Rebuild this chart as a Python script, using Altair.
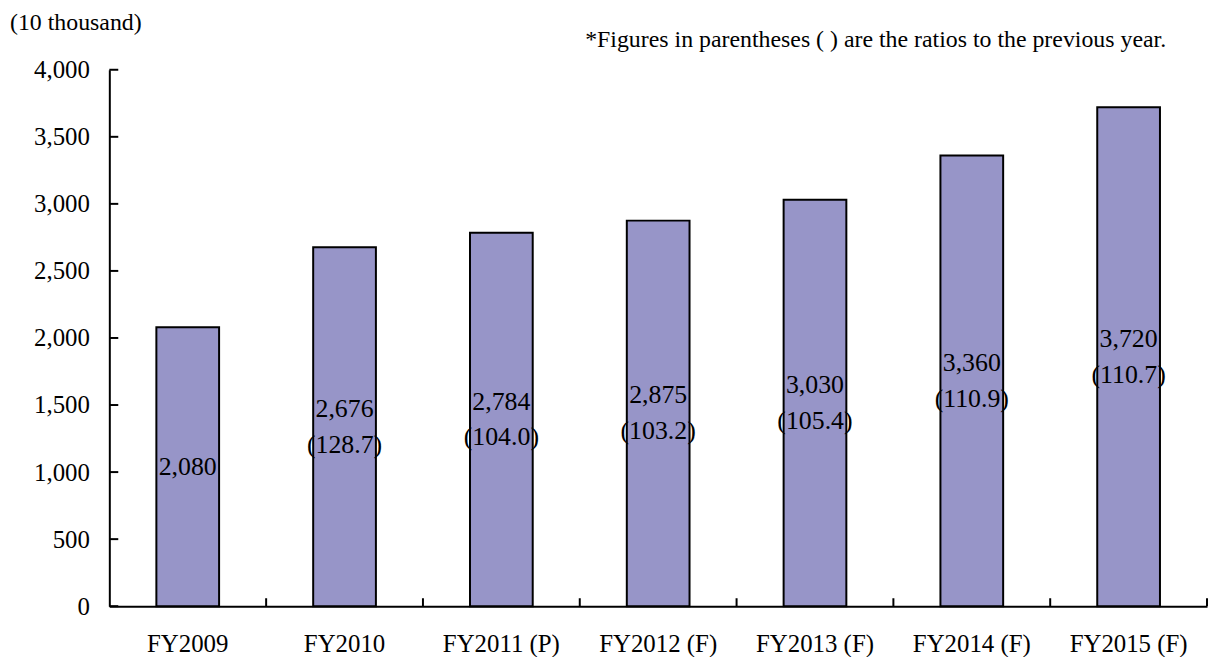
import altair as alt
import pandas as pd

categories = ["FY2009", "FY2010", "FY2011 (P)", "FY2012 (F)", "FY2013 (F)", "FY2014 (F)", "FY2015 (F)"]
values = [2080, 2676, 2784, 2875, 3030, 3360, 3720]
ratios = [None, 128.7, 104.0, 103.2, 105.4, 110.9, 110.7]
y_ticks = [0, 500, 1000, 1500, 2000, 2500, 3000, 3500, 4000]
unit_text = "(10 thousand)"
note_text = "*Figures in parentheses ( ) are the ratios to the previous year."

labels = []
lines = []
for v, r in zip(values, ratios):
    s = f"{v:,}"
    n = 1
    if r is not None:
        s += f"\n({r:.1f})"
        n = 2
    labels.append(s)
    lines.append(n)

df = pd.DataFrame({"cat": categories, "value": values, "label": labels, "lines": lines})
df["mid"] = df["value"] / 2
tick_df = pd.DataFrame({"v": y_ticks})

FONT = "Liberation Serif"
W, H = 1105, 540
LH = 36

xscale = alt.Scale(domain=categories, paddingInner=0.6, paddingOuter=0.3)
yscale = alt.Scale(domain=[0, 4000], nice=False, zero=True)

bars = alt.Chart(df).mark_bar(color="#9795C8", stroke="black", strokeWidth=2).encode(
    x=alt.X("cat:N", sort=categories, scale=xscale,
            axis=alt.Axis(title=None, labelAngle=0, ticks=False, tickSize=0, labelPadding=26,
                          labelFont=FONT, labelFontSize=25, labelColor="black",
                          domainColor="black", domainWidth=2, grid=False)),
    y=alt.Y("value:Q", scale=yscale,
            axis=alt.Axis(title=None, values=y_ticks, format=",.0f", ticks=False, tickSize=0,
                          labelPadding=20, labelFont=FONT, labelFontSize=25, labelColor="black",
                          domainColor="black", domainWidth=2, grid=False)),
)

text1 = alt.Chart(df).transform_filter("datum.lines == 1").mark_text(
    font=FONT, fontSize=26, color="black", lineBreak="\n",
    lineHeight=LH, baseline="middle", align="center").encode(
    x=alt.X("cat:N", sort=categories, scale=xscale),
    y=alt.Y("mid:Q", scale=yscale),
    text="label:N",
)

text2 = alt.Chart(df).transform_filter("datum.lines == 2").mark_text(
    font=FONT, fontSize=26, color="black", lineBreak="\n",
    lineHeight=LH, baseline="middle", align="center", dy=-LH / 2).encode(
    x=alt.X("cat:N", sort=categories, scale=xscale),
    y=alt.Y("mid:Q", scale=yscale),
    text="label:N",
)

ytick_rules = alt.Chart(tick_df).mark_rule(color="black", strokeWidth=2).encode(
    y=alt.Y("v:Q", scale=yscale),
    x=alt.value(0),
    x2=alt.value(9),
)

xtick_rules = alt.Chart(df).mark_rule(color="black", strokeWidth=2).encode(
    x=alt.X("cat:N", sort=categories, bandPosition=1,
            scale=alt.Scale(domain=categories, paddingInner=0, paddingOuter=0), axis=None),
    y=alt.value(H),
    y2=alt.value(H - 8),
)

unit = alt.Chart(pd.DataFrame({"t": [unit_text]})).mark_text(
    font=FONT, fontSize=24, color="black", align="left", baseline="alphabetic").encode(
    x=alt.value(-100), y=alt.value(-40), text="t:N")

note = alt.Chart(pd.DataFrame({"t": [note_text]})).mark_text(
    font=FONT, fontSize=24, color="black", align="left", baseline="alphabetic").encode(
    x=alt.value(479), y=alt.value(-23), text="t:N")

main = alt.layer(bars, text1, text2, ytick_rules, unit, note)
chart = alt.layer(main, xtick_rules).resolve_scale(x="independent").properties(
    width=W, height=H,
    autosize=alt.AutoSizeParams(type="none"),
    padding={"left": 102, "top": 60, "right": 2, "bottom": 52},
    background="white",
).configure_view(stroke=None)

chart.save("out.html", embed_options={"renderer": "svg", "actions": False})
